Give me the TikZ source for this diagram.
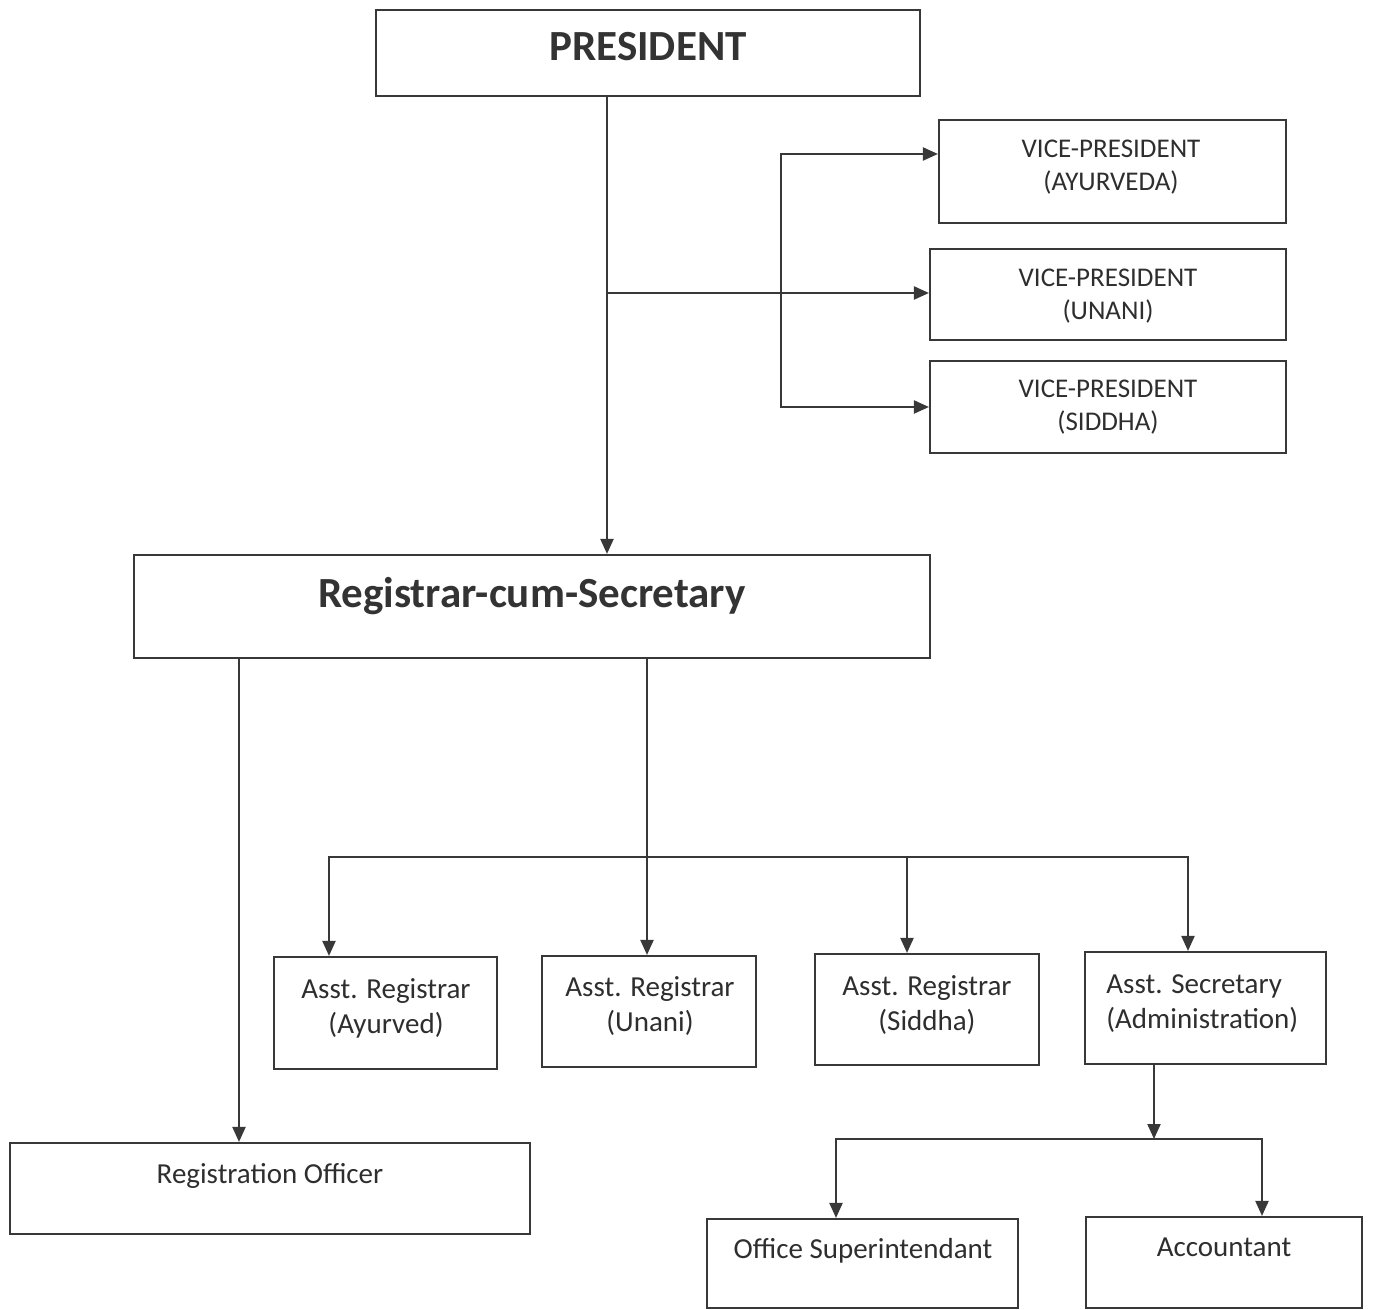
\documentclass[tikz,border=0pt]{standalone}
\usepackage{fontspec}
\setmainfont{Carlito}
\usetikzlibrary{arrows.meta,fit}
\begin{document}
\begin{tikzpicture}[x=0.5pt,y=-0.5pt,
  box/.style={draw=black!78, line width=1.05pt, inner sep=0pt, fit={#1}},
  line/.style={draw=black!78, line width=1.05pt},
  arr/.style={line, -{Triangle[length=7.5pt,width=6.5pt]}},
  both/.style={line, {Triangle[length=7.5pt,width=6.5pt]}-{Triangle[length=7.5pt,width=6.5pt]}},
  big/.style={font=\fontsize{21.5}{26}\selectfont\bfseries, text=black!80, anchor=base, inner sep=0pt},
  vp/.style={font=\fontsize{13.5}{16.5}\selectfont, align=center, text=black!82, inner sep=0pt},
  lo/.style={font=\fontsize{14.5}{17.5}\selectfont, align=center, text=black!82, inner sep=0pt},
  lob/.style={lo, anchor=base}]
\useasboundingbox (0,0) rectangle (1373,1310);
% boxes
\node[box={(376,10) (920,96)}] (pres) {};
\node[box={(939,120) (1286,223)}] (vpa) {};
\node[box={(930,249) (1286,340)}] (vpu) {};
\node[box={(930,361) (1286,453)}] (vps) {};
\node[box={(134,555) (930,658)}] (reg) {};
\node[box={(274,957) (497,1069)}] (ara) {};
\node[box={(542,956) (756,1067)}] (aru) {};
\node[box={(815,954) (1039,1065)}] (ars) {};
\node[box={(1085,952) (1326,1064)}] (asec) {};
\node[box={(10,1143) (530,1234)}] (ro) {};
\node[box={(707,1219) (1018,1308)}] (os) {};
\node[box={(1086,1217) (1362,1308)}] (acc) {};
% texts
\node[big] (pres-t) at (648,61) {PRESIDENT};
\node[big] (reg-t) at (532,608) {Registrar-cum-Secretary};
\node[vp] (vpa-t) at (1111,167) {VICE-PRESIDENT\\(AYURVEDA)};
\node[vp] (vpu-t) at (1108,296) {VICE-PRESIDENT\\(UNANI)};
\node[vp] (vps-t) at (1108,407) {VICE-PRESIDENT\\(SIDDHA)};
\node[lo] (ara-t) at (386,1008) {Asst. Registrar\\(Ayurved)};
\node[lo] (aru-t) at (650,1006) {Asst. Registrar\\(Unani)};
\node[lo] (ars-t) at (927,1005) {Asst. Registrar\\(Siddha)};
\node[lo, align=left, anchor=west] (asec-t) at (1106,1004) {Asst. Secretary\\(Administration)};
\node[lob] (ro-t) at (270,1183) {Registration Officer};
\node[lob] (os-t) at (863,1258) {Office Superintendant};
\node[lob] (acc-t) at (1224,1256) {Accountant};
% helper coordinates
\coordinate (tx) at (607,0);
\coordinate (vx) at (781,0);
\coordinate (vpaY) at (0,154);
\coordinate (vpuY) at (0,293);
\coordinate (rox) at (239,0);
\coordinate (ux) at (647,0);
\coordinate (bar) at (0,857);
\coordinate (xa) at (329,0);
\coordinate (xs) at (907,0);
\coordinate (xd) at (1188,0);
\coordinate (x2) at (1154,0);
\coordinate (bar2) at (0,1139);
\coordinate (xo) at (836,0);
\coordinate (xc) at (1262,0);
% connectors
\draw[arr] (pres.south -| tx) -- (reg.north -| tx);
\draw[arr] (vpuY -| tx) -- (vpuY -| vpu.west);
\draw[both] (vpaY -| vpa.west) -- (vpaY -| vx) -- (vps.west -| vx) -- (vps.west);
\draw[arr] (reg.south -| rox) -- (ro.north -| rox);
\draw[arr] (reg.south -| ux) -- (aru.north -| ux);
\draw[both] (ara.north -| xa) -- (bar -| xa) -- (bar -| xd) -- (asec.north -| xd);
\draw[arr] (bar -| xs) -- (ars.north -| xs);
\draw[arr] (asec.south -| x2) -- (bar2 -| x2);
\draw[both] (os.north -| xo) -- (bar2 -| xo) -- (bar2 -| xc) -- (acc.north -| xc);
\end{tikzpicture}
\end{document}
